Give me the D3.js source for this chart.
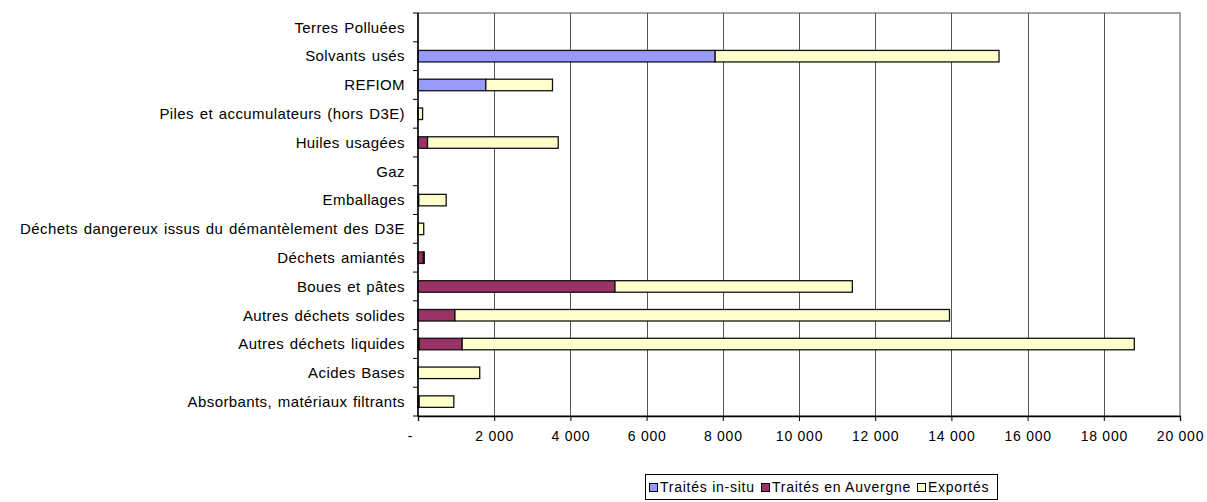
<!DOCTYPE html>
<html>
<head>
<meta charset="utf-8">
<script src="https://cdn.jsdelivr.net/npm/d3@7"></script>
<style>
  body { margin: 0; background: #fff; }
  svg text { font-family: "Liberation Sans", Arial, sans-serif; font-size: 14px; fill: #000; letter-spacing: 0.75px; }
  svg text.cat { font-size: 15px; letter-spacing: 0.4px; word-spacing: 1.2px; }
</style>
</head>
<body>
<div id="chart"></div>
<script>
const width = 1207;
const height = 502;
const margin = {top: 13, right: 27, bottom: 86, left: 418};

// categories, top to bottom
const categories = [
  "Terres Polluées",
  "Solvants usés",
  "REFIOM",
  "Piles et accumulateurs (hors D3E)",
  "Huiles usagées",
  "Gaz",
  "Emballages",
  "Déchets dangereux issus du démantèlement des D3E",
  "Déchets amiantés",
  "Boues et pâtes",
  "Autres déchets solides",
  "Autres déchets liquides",
  "Acides Bases",
  "Absorbants, matériaux filtrants"
];
const seriesNames = ["Traités in-situ", "Traités en Auvergne", "Exportés"];
const seriesColors = ["#9999ff", "#993366", "#ffffcc"];

// tonnes per series (same order as categories)
const insitu   = [0, 7800, 1780, 0,   0,    0, 0,   0,   0,   0,    0,     30,    0,    0];
const auvergne = [0, 0,    0,    0,   250,  0, 20,  0,   140, 5170, 970,   1130,  0,    30];
const exportes = [0, 7450, 1750, 120, 3430, 0, 720, 150, 25,  6230, 12980, 17640, 1620, 910];

const xTicks = [0, 2000, 4000, 6000, 8000, 10000, 12000, 14000, 16000, 18000, 20000];

const rows = categories.map((c, i) => ({cat: c, v: [insitu[i], auvergne[i], exportes[i]]}));

const svg = d3.select("#chart").append("svg")
  .attr("width", width)
  .attr("height", height);

const x = d3.scaleLinear().domain([0, 20000]).range([margin.left, width - margin.right]);
const y = d3.scaleBand().domain(categories).range([margin.top, height - margin.bottom]).paddingInner(0.6).paddingOuter(0.3);
const step = y.step();

// plot border (top / right)
svg.append("rect")
  .attr("x", margin.left).attr("y", margin.top)
  .attr("width", x(20000) - margin.left)
  .attr("height", height - margin.bottom - margin.top)
  .attr("fill", "none").attr("stroke", "#888").attr("stroke-width", 1.5);

// gridlines
svg.append("g").selectAll("line")
  .data(xTicks.slice(1, -1)).enter().append("line")
  .attr("x1", d => Math.round(x(d)) + 0.5).attr("x2", d => Math.round(x(d)) + 0.5)
  .attr("y1", margin.top).attr("y2", height - margin.bottom)
  .attr("stroke", "#555").attr("stroke-width", 1);

// stacked bars
const stack = d3.stack().keys([0, 1, 2]).value((d, k) => d.v[k]);
const layers = stack(rows);

svg.append("g").selectAll("g")
  .data(layers).enter().append("g")
  .attr("fill", (d, i) => seriesColors[i])
  .selectAll("rect")
  .data(d => d.filter(s => s[1] - s[0] > 0)).enter().append("rect")
  .attr("x", d => x(d[0]))
  .attr("y", d => y(d.data.cat))
  .attr("width", d => x(d[1]) - x(d[0]))
  .attr("height", y.bandwidth())
  .attr("stroke", "#111").attr("stroke-width", 1.3);

// x axis
const xAxis = d3.axisBottom(x)
  .tickValues(xTicks)
  .tickSize(5)
  .tickPadding(10)
  .tickFormat(d => d === 0 ? "-" : d3.format(",")(d).replace(/,/g, " "));

const gx = svg.append("g")
  .attr("transform", "translate(0," + (height - margin.bottom) + ")")
  .call(xAxis);
gx.select(".domain").attr("stroke", "#000").attr("stroke-width", 1.3);
gx.selectAll(".tick line").attr("stroke", "#000");
gx.selectAll(".tick text").attr("font-size", null).attr("font-family", null)
  .attr("dx", d => d === 0 ? -8 : 0);

// y axis with ticks between categories
svg.append("line")
  .attr("x1", margin.left).attr("x2", margin.left)
  .attr("y1", margin.top).attr("y2", height - margin.bottom)
  .attr("stroke", "#000").attr("stroke-width", 1.5);

svg.append("g").selectAll("line")
  .data(d3.range(categories.length + 1)).enter().append("line")
  .attr("x1", margin.left - 5).attr("x2", margin.left)
  .attr("y1", i => margin.top + i * step).attr("y2", i => margin.top + i * step)
  .attr("stroke", "#000");

svg.append("g").selectAll("text")
  .data(categories).enter().append("text")
  .attr("class", "cat")
  .attr("x", margin.left - 13)
  .attr("y", d => y(d) + y.bandwidth() / 2)
  .attr("dy", "0.35em")
  .attr("text-anchor", "end")
  .text(d => d);

// legend: items laid out one after another, box ends at x=997
const legend = svg.append("g");
const box = legend.append("rect")
  .attr("y", 474.5).attr("height", 25)
  .attr("fill", "#fff").attr("stroke", "#000");

const items = seriesNames.map((name, i) => {
  const g = legend.append("g");
  g.append("rect")
    .attr("x", 0.5).attr("y", 483.5).attr("width", 8).attr("height", 8)
    .attr("fill", seriesColors[i]).attr("stroke", "#000");
  const t = g.append("text").attr("x", 11).attr("y", 492).text(name);
  return {g: g, w: 11 + t.node().getComputedTextLength()};
});
const totalW = d3.sum(items, d => d.w) + 6 * (items.length - 1);
const boxRight = 997;
const startX = boxRight - 8 - totalW;
let cx = startX;
items.forEach(it => {
  it.g.attr("transform", "translate(" + Math.round(cx) + ",0)");
  cx += it.w + 6;
});
box.attr("x", Math.round(startX - 4) + 0.5).attr("width", Math.round(boxRight - startX + 4));
</script>
</body>
</html>
